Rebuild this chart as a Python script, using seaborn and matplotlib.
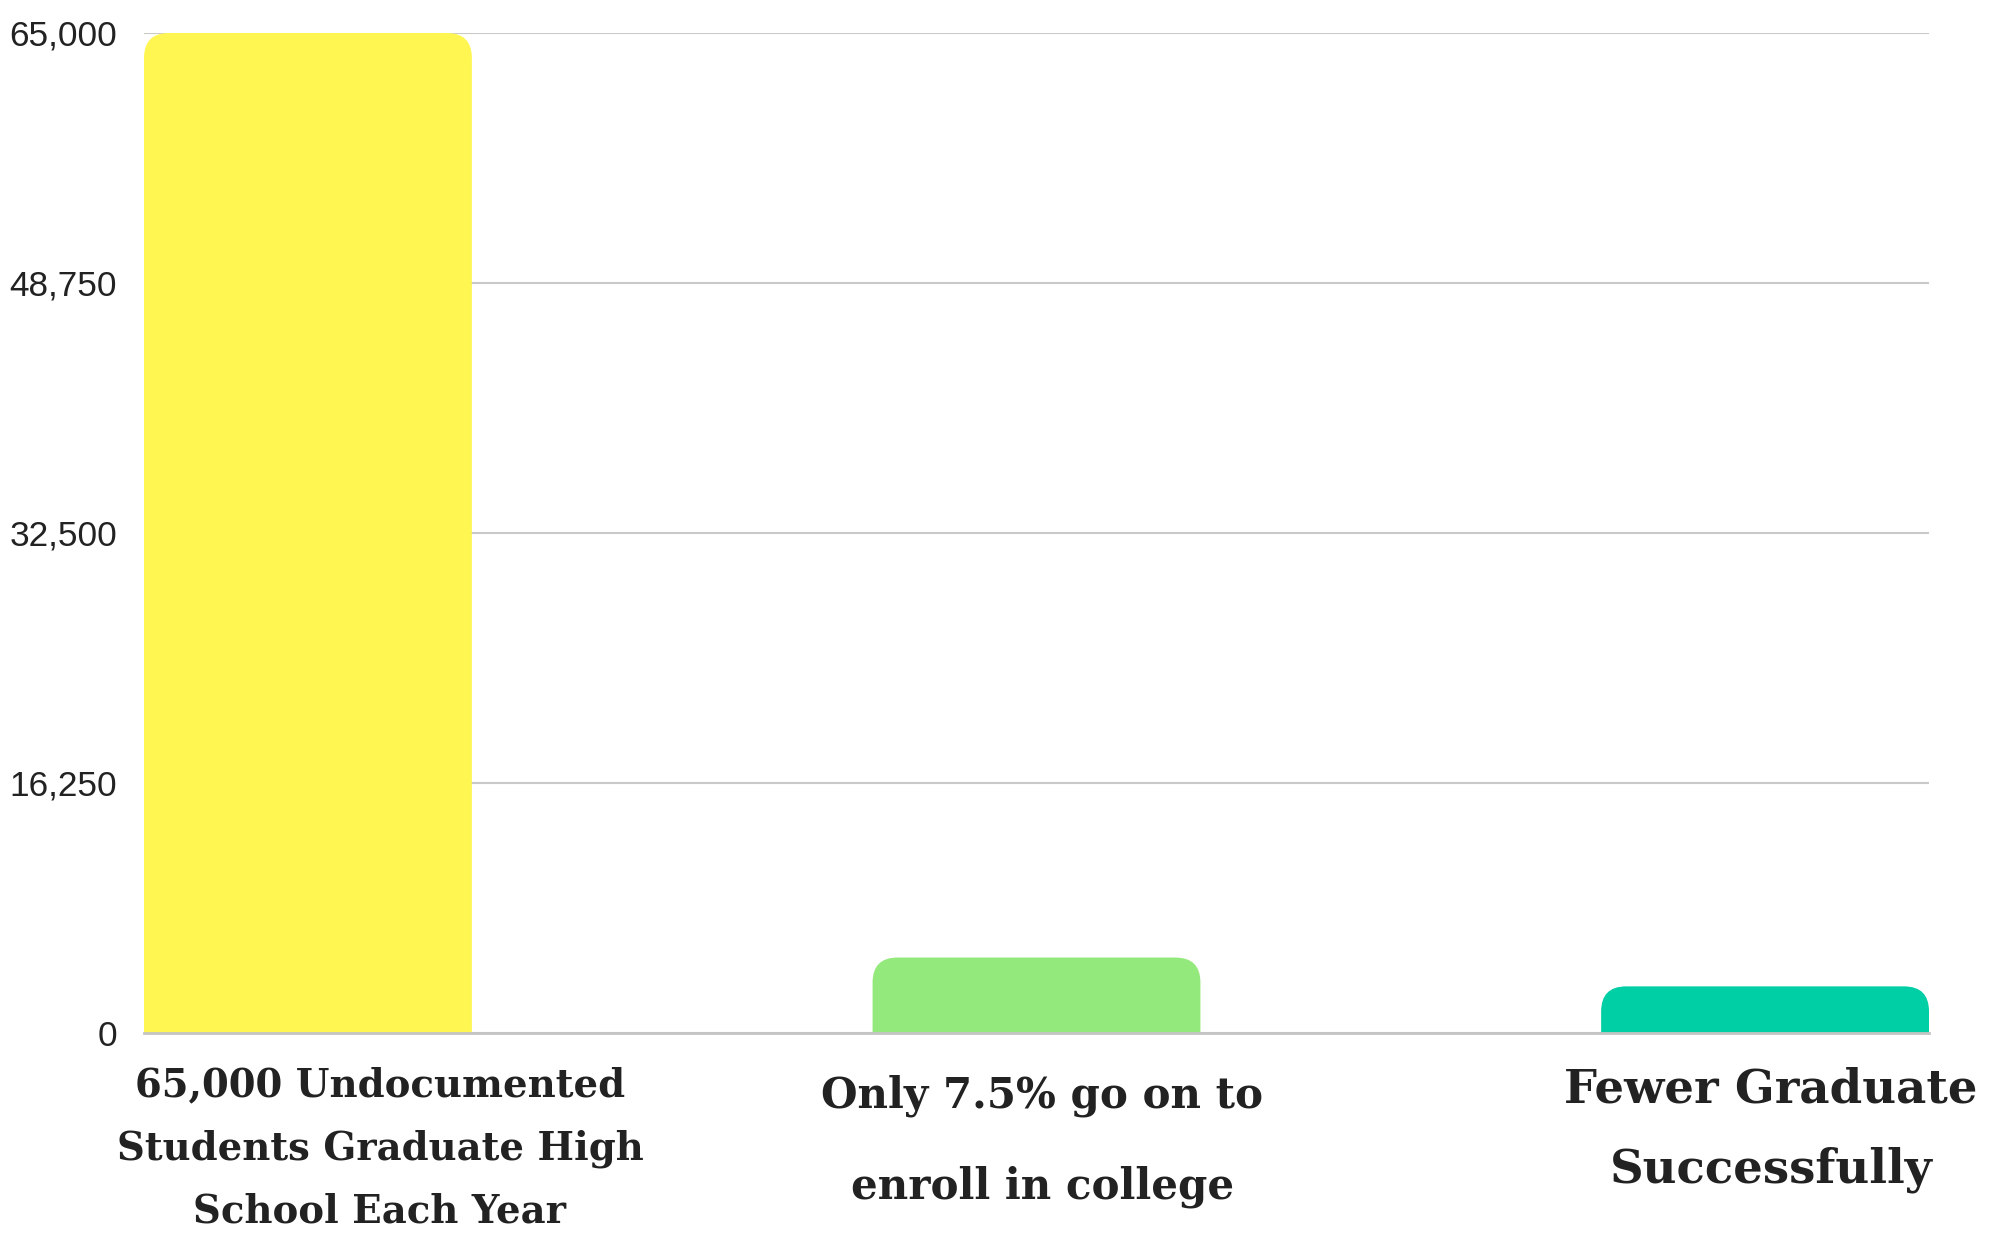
import matplotlib
matplotlib.use("Agg")
import matplotlib.pyplot as plt
import matplotlib.transforms as mtransforms
from matplotlib.patches import FancyBboxPatch
import seaborn as sns
import pandas as pd

categories = ["65,000 Undocumented\nStudents Graduate High\nSchool Each Year",
              "Only 7.5% go on to\nenroll in college",
              "Fewer Graduate\nSuccessfully"]
values = [65000, 4875, 3000]
colors = ["#FFF652", "#93E97C", "#00CEA5"]
yticks = [0, 16250, 32500, 48750, 65000]
ytick_labels = ["0", "16,250", "32,500", "48,750", "65,000"]

sns.set_theme(style="white")
W, H = 2003, 1235
fig = plt.figure(figsize=(W / 100, H / 100), dpi=100)
ax = fig.add_axes([144 / W, 1 - 1032.5 / H, 1785 / W, 999.5 / H])

df = pd.DataFrame({"cat": categories, "val": values})
sns.barplot(data=df, x="cat", y="val", hue="cat", palette=colors,
            width=0.45, legend=False, ax=ax, saturation=1)

ax.set_xlim(-0.225, 2.225)
ax.set_ylim(0, 65000)
ax.set_xlabel("")
ax.set_ylabel("")

# grid and spines
ax.set_yticks(yticks)
ax.set_yticklabels(ytick_labels, fontfamily="Liberation Sans", fontsize=25.4, color="#222222")
ax.yaxis.grid(True, color="#c9c9c9", linewidth=1.5)
ax.xaxis.grid(False)
ax.set_axisbelow(True)
for s in ["top", "right", "left"]:
    ax.spines[s].set_visible(False)
ax.spines["bottom"].set_color("#c4c4c4")
ax.spines["bottom"].set_linewidth(2.0)
ax.tick_params(axis="y", length=0, pad=19.4)
ax.tick_params(axis="x", length=0, pad=24.5)

# rounded top corners
fig.canvas.draw()
p0 = ax.transData.transform((0, 0))
p1 = ax.transData.transform((1, 1))
xpx = p1[0] - p0[0]
ypx = p1[1] - p0[1]
r_x = 25 / xpx
aspect = xpx / ypx
for patch in list(ax.patches):
    x = patch.get_x()
    w = patch.get_width()
    h = patch.get_height()
    fc = patch.get_facecolor()
    patch.set_visible(False)
    ext = 60 / ypx
    fb = FancyBboxPatch((x, -ext), w, h + ext,
                        boxstyle=f"round,pad=0,rounding_size={r_x}",
                        mutation_aspect=aspect, facecolor=fc, edgecolor="none",
                        linewidth=0, zorder=1)
    ax.add_patch(fb)

# x tick labels
ax.set_xticks(range(len(categories)))
ax.set_xticklabels(categories, fontfamily="DejaVu Serif", fontweight="bold",
                   color="#222222", fontsize=28)
targets = [527, 443, 414]
spacings = [1.82, 2.47, 1.94]
offsets = [(72, 0), (6, -8), (6, 0)]
fig.canvas.draw()
renderer = fig.canvas.get_renderer()
for lbl, target, ls, (ox, oy) in zip(ax.get_xticklabels(), targets, spacings, offsets):
    lbl.set_linespacing(1.0)
    wpx = lbl.get_window_extent(renderer).width
    lbl.set_fontsize(lbl.get_fontsize() * target / wpx)
    lbl.set_linespacing(ls)
    lbl.set_transform(lbl.get_transform() +
                      mtransforms.ScaledTranslation(ox / 100, oy / 100, fig.dpi_scale_trans))

fig.savefig("out.png", dpi=100)
